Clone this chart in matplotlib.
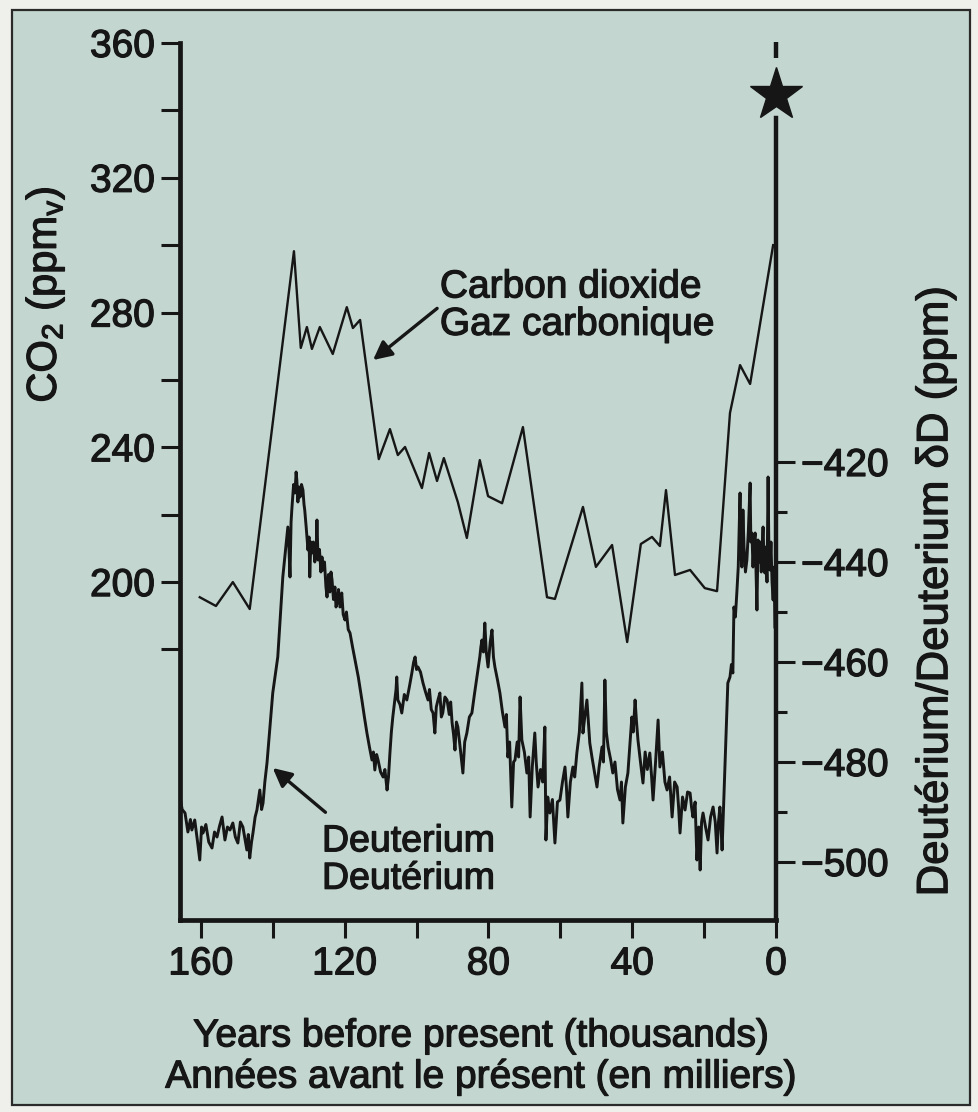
import numpy as np
import matplotlib.pyplot as plt
import matplotlib.text as mtext
import matplotlib.patheffects as pe
from matplotlib.patches import Rectangle
from matplotlib.ticker import FixedLocator

plt.rcParams['font.family'] = ['Liberation Sans', 'DejaVu Sans']
plt.rcParams['mathtext.fontset'] = 'custom'
plt.rcParams['mathtext.rm'] = 'Liberation Sans'
plt.rcParams['mathtext.it'] = 'Liberation Sans:italic'

# CO2 record (thousand years before present, ppmv)
co2_age = [160.3, 155.8, 151.1, 146.4, 134.1, 132.2, 130.5, 129.1, 126.9, 123.3,
           119.4, 117.7, 115.7, 110.5, 107.4, 105.2, 103.2, 98.5, 96.5, 94.3,
           92.4, 88.5, 86.0, 82.4, 80.1, 76.2, 70.4, 63.7, 61.5, 53.7,
           50.1, 45.6, 41.4, 37.6, 34.5, 32.3, 30.6, 28.1, 23.9, 19.8,
           16.4, 12.8, 10.0, 7.2, 0.8]
co2_ppm = [195.5, 192.9, 200.0, 192.0, 298.2, 269.5, 275.7, 269.2, 275.7, 267.7,
           281.6, 275.4, 277.8, 236.5, 245.4, 237.7, 240.1, 227.9, 238.3, 230.0,
           236.8, 223.7, 213.1, 236.2, 225.5, 223.4, 246.0, 195.5, 195.0, 222.3,
           204.5, 211.0, 182.2, 211.3, 213.4, 210.7, 227.3, 202.1, 203.6, 198.2,
           197.3, 250.2, 264.4, 258.8, 300.0]

# Deuterium record (thousand years before present, delta D)
dd_age = [165.8, 165.2, 164.4, 163.6, 162.9, 162.5, 161.7, 161.0, 160.3, 159.8,
          159.4, 158.6, 157.8, 156.9, 156.2, 155.5, 154.8, 154.1, 153.3, 152.6,
          151.9, 151.1, 150.4, 149.7, 149.0, 148.3, 147.7, 147.2, 146.8, 146.4,
          145.9, 145.5, 144.9, 144.4, 143.9, 143.6, 143.1, 142.7, 142.2, 141.6,
          140.0, 138.6, 137.2, 136.5, 135.8, 135.5, 135.2, 134.9, 134.7, 134.2,
          133.8, 133.5, 133.3, 133.0, 132.7, 132.4, 132.0, 131.6, 131.3, 131.1,
          130.7, 130.2, 129.9, 129.7, 129.4, 129.1, 128.7, 128.3, 127.9, 127.7,
          127.4, 127.0, 126.6, 126.3, 126.0, 125.6, 125.2, 124.9, 124.5, 124.1,
          123.8, 123.5, 123.1, 122.7, 122.4, 122.1, 121.7, 121.3, 120.8, 120.4,
          119.9, 119.5, 119.0, 118.5, 117.8, 117.1, 116.2, 115.2, 114.5, 113.8,
          113.1, 112.4, 112.0, 111.6, 111.1, 110.7, 110.0, 109.3, 108.8, 108.2,
          107.8, 107.4, 107.0, 106.6, 106.1, 105.7, 105.5, 105.2, 104.6, 104.1,
          103.4, 102.7, 102.0, 101.3, 100.8, 100.4, 100.0, 99.6, 98.9, 98.2,
          97.5, 96.8, 96.4, 95.9, 95.4, 94.9, 94.5, 94.0, 93.5, 93.1,
          92.7, 92.1, 91.5, 90.9, 90.5, 90.1, 89.7, 89.3, 88.9, 88.5,
          87.8, 87.1, 86.6, 86.0, 85.3, 84.6, 83.9, 83.2, 82.8, 82.4,
          82.1, 81.8, 81.4, 81.0, 80.6, 80.1, 79.5, 79.0, 78.6, 78.2,
          77.5, 76.8, 76.1, 75.4, 75.0, 74.6, 74.1, 73.5, 73.0, 72.6,
          72.0, 71.6, 71.2, 70.7, 70.0, 69.3, 68.8, 68.4, 67.8, 67.1,
          66.7, 66.2, 65.5, 64.9, 64.3, 64.0, 63.5, 62.9, 62.2, 61.5,
          60.8, 60.1, 59.4, 58.7, 58.3, 57.9, 57.2, 56.5, 56.0, 55.4,
          54.7, 54.0, 53.7, 53.2, 52.6, 52.2, 51.8, 51.2, 50.5, 49.8,
          49.2, 48.4, 48.0, 47.6, 47.2, 46.7, 46.0, 45.4, 44.8, 44.1,
          43.4, 43.0, 42.6, 41.9, 41.2, 40.7, 40.1, 39.7, 39.2, 38.8,
          38.4, 37.7, 37.0, 36.4, 35.8, 35.1, 34.6, 34.2, 33.5, 32.8,
          32.3, 31.6, 30.9, 30.3, 29.6, 28.9, 28.2, 27.5, 27.1, 26.7,
          26.0, 25.3, 24.6, 23.9, 23.5, 23.1, 22.5, 22.0, 21.5, 21.1,
          20.7, 20.3, 19.6, 18.9, 18.2, 17.5, 16.9, 16.4, 16.0, 15.6,
          15.3, 15.0, 14.2, 13.4, 12.8, 12.4, 12.0, 11.7, 11.3, 10.9,
          10.5, 10.0, 9.8, 9.5, 9.2, 8.9, 8.5, 8.1, 7.7, 7.2,
          7.0, 6.7, 6.4, 6.1, 5.8, 5.5, 5.3, 5.0, 4.7, 4.4,
          4.1, 3.9, 3.6, 3.3, 3.1, 2.8, 2.5, 2.2, 2.0, 1.7,
          1.4, 1.1, 0.8, 0.5, 0.3]
dd_val = [-487.0, -489.5, -490.2, -494.0, -491.5, -493.6, -491.6, -495.5, -499.6, -493.0,
          -494.2, -492.5, -496.0, -497.2, -494.0, -495.0, -492.8, -491.0, -495.6, -493.0,
          -493.6, -492.2, -495.0, -496.2, -492.0, -493.0, -495.5, -497.6, -494.5, -499.2,
          -496.0, -494.2, -491.0, -489.6, -487.0, -485.6, -489.5, -488.2, -484.0, -480.2,
          -466.2, -459.0, -443.0, -438.0, -433.0, -437.0, -443.0, -432.0, -429.6, -424.5,
          -426.2, -422.0, -423.6, -428.0, -425.0, -427.0, -424.5, -425.6, -428.5, -429.6,
          -433.0, -437.6, -435.0, -443.0, -436.0, -438.2, -436.0, -440.0, -437.0, -431.6,
          -439.6, -437.5, -442.0, -439.0, -441.6, -440.0, -445.0, -447.0, -442.5, -446.0,
          -442.0, -443.6, -447.5, -445.0, -449.0, -448.2, -445.5, -449.0, -446.2, -450.5,
          -451.6, -450.0, -453.5, -454.2, -457.0, -459.6, -463.0, -467.6, -471.0, -474.2,
          -477.0, -479.6, -478.0, -481.6, -478.5, -479.6, -482.0, -483.0, -481.5, -485.6,
          -483.0, -478.2, -474.0, -471.0, -468.0, -465.5, -463.0, -467.6, -468.5, -470.2,
          -466.5, -467.6, -465.0, -462.2, -460.0, -459.0, -461.5, -461.0, -462.0, -464.2,
          -466.0, -467.6, -465.5, -469.5, -470.2, -474.2, -469.0, -467.5, -466.2, -471.0,
          -470.2, -467.0, -467.6, -470.5, -468.0, -472.2, -474.5, -477.6, -472.0, -473.0,
          -477.5, -482.2, -476.0, -474.2, -471.0, -470.2, -466.5, -463.0, -461.0, -459.0,
          -457.0, -455.6, -458.0, -452.2, -458.0, -461.0, -456.0, -453.6, -459.0, -461.0,
          -463.5, -466.2, -470.0, -473.0, -470.5, -479.0, -476.0, -489.0, -480.0, -479.6,
          -476.0, -479.0, -467.0, -475.6, -478.0, -482.2, -479.0, -491.0, -481.0, -474.2,
          -480.0, -485.0, -481.5, -484.0, -473.0, -495.6, -487.0, -490.2, -487.5, -496.2,
          -488.0, -487.6, -484.0, -481.0, -485.0, -491.0, -484.0, -481.0, -483.0, -478.2,
          -474.0, -464.2, -474.2, -471.0, -467.6, -472.0, -476.2, -479.0, -482.0, -485.0,
          -481.0, -477.0, -480.0, -463.6, -474.0, -477.0, -479.5, -482.2, -480.0, -485.5,
          -487.6, -484.0, -492.2, -485.0, -482.2, -477.0, -471.0, -474.0, -467.6, -472.0,
          -475.6, -480.0, -484.2, -478.0, -481.5, -478.2, -483.0, -487.6, -480.0, -471.6,
          -481.0, -478.0, -484.0, -485.6, -483.0, -491.0, -484.0, -485.0, -489.0, -494.2,
          -487.0, -489.6, -486.0, -486.2, -489.0, -491.0, -488.0, -499.6, -493.0, -501.6,
          -492.0, -490.2, -493.0, -495.6, -491.0, -489.0, -492.0, -498.2, -492.0, -489.0,
          -493.0, -497.6, -481.0, -464.2, -463.0, -460.5, -462.2, -449.0, -451.0, -446.2,
          -441.0, -426.2, -438.0, -441.0, -429.6, -437.0, -442.0, -439.6, -434.0, -424.2,
          -436.0, -434.2, -441.0, -436.0, -434.2, -443.0, -449.6, -435.6, -440.0, -436.0,
          -442.0, -437.6, -433.0, -440.0, -442.2, -437.0, -444.0, -423.0, -436.0, -441.6,
          -436.0, -444.0, -447.6, -441.0, -453.0]

co2_ticks = [200, 240, 280, 320, 360]
co2_minor = [180, 220, 260, 300, 340]
dd_ticks = [-500, -480, -460, -440, -420]
dd_minor = [-490, -470, -450, -430]
age_ticks = [160, 120, 80, 40, 0]
age_minor = [140, 100, 60, 20]

ink = '#161616'
panel = '#c3d6cf'

fig = plt.figure(figsize=(9.79, 11.12), dpi=100, facecolor='#efefeb')
fig.patches.append(Rectangle((0.0123, 0.0063), 0.9785, 0.9847, transform=fig.transFigure,
                             facecolor=panel, edgecolor='#2a2a2a', lw=1.6, zorder=-5))

ax = fig.add_axes([0.18386, 0.17266, 0.60878, 0.78867])
ax.set_facecolor('none')
ax2 = ax.twinx()
ax2.set_facecolor('none')

ax.plot(co2_age, co2_ppm, color=ink, lw=1.7)
ax2.plot(dd_age, dd_val, color=ink, lw=2.1)

ax.set_xlim(165.8, 0)
ax.set_ylim(99.7, 360)
ax2.set_ylim(-511.6, -336.2)

for s in ['top', 'right']:
    ax.spines[s].set_visible(False)
for s in ['top', 'left', 'bottom']:
    ax2.spines[s].set_visible(False)
for s in ['left', 'bottom']:
    ax.spines[s].set_linewidth(3.4)
    ax.spines[s].set_color(ink)
ax2.spines['right'].set_linewidth(3.2)
ax2.spines['right'].set_color(ink)
ax2.spines['right'].set_bounds(-511.6, -351.2)

ax.yaxis.set_major_locator(FixedLocator(co2_ticks))
ax.yaxis.set_minor_locator(FixedLocator(co2_minor))
ax.xaxis.set_major_locator(FixedLocator(age_ticks))
ax.xaxis.set_minor_locator(FixedLocator(age_minor))
ax2.yaxis.set_major_locator(FixedLocator(dd_ticks))
ax2.yaxis.set_minor_locator(FixedLocator(dd_minor))

ax.tick_params(axis='y', which='both', length=14, width=2.2, color=ink,
               labelsize=28, labelcolor=ink, pad=4)
ax.tick_params(axis='x', which='both', length=13, width=2.2, color=ink,
               labelsize=28, labelcolor=ink, pad=6)
ax2.tick_params(axis='y', which='major', length=14, width=2.2, color=ink,
                labelsize=28, labelcolor=ink, pad=4)
ax2.tick_params(axis='y', which='minor', length=8, width=2.2, color=ink)
ax2.yaxis.set_major_formatter(lambda v, p: '\u2212%d' % abs(v))

# marker at the top of the present-day axis
ax2.plot([0], [-346.6], marker='*', ms=40, color=ink, clip_on=False)
ax2.plot([0, 0], [-336.0, -339.2], color=ink, lw=3.2, clip_on=False,
         solid_capstyle='butt')

ax.annotate('Carbon dioxide\nGaz carbonique', xy=(112.1, 265.9), xytext=(93.5, 281.9),
            fontsize=28, color=ink, ha='left', va='center', linespacing=1.05,
            arrowprops=dict(arrowstyle='-|>', color=ink, lw=2.4, mutation_scale=28,
                            shrinkA=0, shrinkB=0, relpos=(0, 0.5)))
ax2.annotate('Deuterium\nDeutérium', xy=(140.0, -481.2), xytext=(126.3, -499.6),
             fontsize=27, color=ink, ha='left', va='center', linespacing=1.05,
             arrowprops=dict(arrowstyle='-|>', color=ink, lw=2.4, mutation_scale=28,
                             shrinkA=0, shrinkB=0, relpos=(0.02, 1.15)))

fig.text(0.046, 0.735, 'CO$_2$ (ppm$_\\mathregular{v}$)', rotation=90, fontsize=30,
         color=ink, ha='center', va='center')
fig.text(0.955, 0.4685, 'Deutérium/Deuterium δD (ppm)', rotation=90, fontsize=31.5,
         color=ink, ha='center', va='center')
fig.text(0.491, 0.068, 'Years before present (thousands)', fontsize=28,
         color=ink, ha='center', va='center')
fig.text(0.491, 0.031, 'Années avant le présent (en milliers)', fontsize=28,
         color=ink, ha='center', va='center')

# the printed lettering is a little heavier than the regular face
fig.canvas.draw()
for t in fig.findobj(mtext.Text):
    t.set_path_effects([pe.withStroke(linewidth=0.9, foreground=ink)])

fig.savefig('out.png', dpi=100, facecolor=fig.get_facecolor())
